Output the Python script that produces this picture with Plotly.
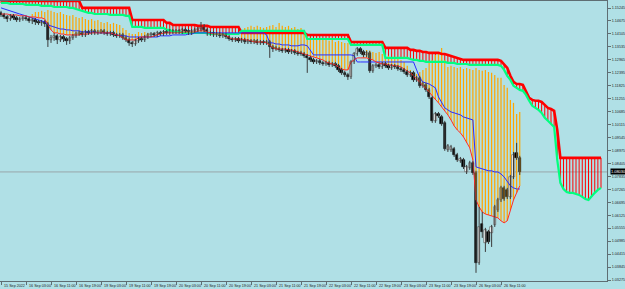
import plotly.graph_objects as go

# ---------------- data (EURUSD-style H1 chart, Ichimoku) ----------------
X_LABELS = ["15 Sep 2022", "16 Sep 03:00", "16 Sep 11:00", "16 Sep 19:00", "19 Sep 03:00",
            "19 Sep 11:00", "19 Sep 19:00", "20 Sep 03:00", "20 Sep 11:00", "20 Sep 19:00",
            "21 Sep 03:00", "21 Sep 11:00", "21 Sep 19:00", "22 Sep 03:00", "22 Sep 11:00",
            "22 Sep 19:00", "23 Sep 03:00", "23 Sep 11:00", "23 Sep 19:00", "26 Sep 03:00",
            "26 Sep 11:00"]
X_LABEL_BARS = [0, 8, 16, 24, 32, 40, 48, 56, 64, 72, 80, 88, 96, 104, 112, 120, 128, 136,
                144, 152, 160]
Y_TICKS = [1.15245, 1.14675, 1.14105, 1.13535, 1.12965, 1.12395, 1.11825, 1.11255, 1.10685,
           1.10115, 1.09545, 1.08975, 1.08405, 1.07835, 1.07265, 1.06695, 1.06125, 1.05555,
           1.04985, 1.04415, 1.03845, 1.03275]

OPEN = [1.1503, 1.1494, 1.1485, 1.1476, 1.1490, 1.1481, 1.1472, 1.1476,
        1.1481, 1.1476, 1.1468, 1.1472, 1.1463, 1.1459, 1.1463, 1.1454,
        1.1384, 1.1393, 1.1402, 1.1384, 1.1397, 1.1388, 1.1380, 1.1393,
        1.1402, 1.1410, 1.1415, 1.1406, 1.1419, 1.1415, 1.1424, 1.1415,
        1.1419, 1.1424, 1.1415, 1.1410, 1.1415, 1.1406, 1.1402, 1.1406,
        1.1393, 1.1384, 1.1371, 1.1366, 1.1380, 1.1388, 1.1384, 1.1397,
        1.1406, 1.1410, 1.1406, 1.1415, 1.1410, 1.1419, 1.1415, 1.1424,
        1.1419, 1.1424, 1.1419, 1.1428, 1.1424, 1.1415, 1.1424, 1.1428,
        1.1432, 1.1446, 1.1428, 1.1410, 1.1415, 1.1406, 1.1410, 1.1402,
        1.1406, 1.1397, 1.1388, 1.1384, 1.1388, 1.1380, 1.1384, 1.1375,
        1.1380, 1.1375, 1.1380, 1.1371, 1.1375, 1.1371, 1.1375, 1.1353,
        1.1349, 1.1344, 1.1340, 1.1336, 1.1340, 1.1331, 1.1336, 1.1327,
        1.1327, 1.1322, 1.1314, 1.1305, 1.1296, 1.1287, 1.1292, 1.1283,
        1.1278, 1.1283, 1.1274, 1.1278, 1.1270, 1.1252, 1.1239, 1.1230,
        1.1221, 1.1287, 1.1322, 1.1344, 1.1331, 1.1318, 1.1327, 1.1248,
        1.1270, 1.1274, 1.1265, 1.1278, 1.1270, 1.1261, 1.1270, 1.1265,
        1.1256, 1.1252, 1.1243, 1.1230, 1.1239, 1.1208, 1.1217, 1.1182,
        1.1186, 1.1164, 1.1129, 1.1028, 1.1058, 1.1045, 1.1019, 1.0900,
        1.0900, 1.0904, 1.0878, 1.0852, 1.0856, 1.0803, 1.0821, 1.0843,
        1.0799, 1.0403, 1.0574, 1.0491, 1.0539, 1.0535, 1.0570, 1.0636,
        1.0680, 1.0733, 1.0724, 1.0693, 1.0781, 1.0887, 1.0865]
HIGH = [1.1512, 1.1503, 1.1494, 1.1498, 1.1498, 1.1490, 1.1485, 1.1490,
        1.1490, 1.1485, 1.1481, 1.1481, 1.1472, 1.1472, 1.1472, 1.1463,
        1.1406, 1.1415, 1.1410, 1.1406, 1.1406, 1.1397, 1.1402, 1.1410,
        1.1419, 1.1424, 1.1424, 1.1428, 1.1428, 1.1432, 1.1432, 1.1428,
        1.1432, 1.1432, 1.1424, 1.1424, 1.1424, 1.1415, 1.1415, 1.1415,
        1.1402, 1.1393, 1.1380, 1.1388, 1.1397, 1.1397, 1.1406, 1.1415,
        1.1419, 1.1419, 1.1424, 1.1424, 1.1428, 1.1428, 1.1432, 1.1432,
        1.1432, 1.1432, 1.1437, 1.1437, 1.1432, 1.1432, 1.1437, 1.1441,
        1.1463, 1.1454, 1.1437, 1.1424, 1.1424, 1.1419, 1.1419, 1.1415,
        1.1415, 1.1406, 1.1397, 1.1397, 1.1397, 1.1393, 1.1393, 1.1388,
        1.1388, 1.1388, 1.1388, 1.1384, 1.1384, 1.1384, 1.1384, 1.1362,
        1.1358, 1.1353, 1.1349, 1.1349, 1.1349, 1.1344, 1.1344, 1.1336,
        1.1336, 1.1331, 1.1322, 1.1314, 1.1305, 1.1300, 1.1300, 1.1292,
        1.1292, 1.1292, 1.1287, 1.1287, 1.1278, 1.1261, 1.1248, 1.1239,
        1.1296, 1.1331, 1.1353, 1.1353, 1.1340, 1.1336, 1.1336, 1.1278,
        1.1283, 1.1283, 1.1287, 1.1287, 1.1278, 1.1278, 1.1278, 1.1274,
        1.1265, 1.1261, 1.1252, 1.1248, 1.1248, 1.1226, 1.1226, 1.1199,
        1.1195, 1.1173, 1.1138, 1.1067, 1.1067, 1.1054, 1.1028, 1.0926,
        1.0922, 1.0913, 1.0887, 1.0869, 1.0865, 1.0834, 1.0852, 1.0852,
        1.0808, 1.0649, 1.0627, 1.0557, 1.0548, 1.0570, 1.0658, 1.0689,
        1.0742, 1.0742, 1.0733, 1.0790, 1.0891, 1.0931, 1.0874]
LOW = [1.1485, 1.1476, 1.1463, 1.1468, 1.1472, 1.1463, 1.1463, 1.1468,
       1.1468, 1.1459, 1.1454, 1.1450, 1.1450, 1.1446, 1.1441, 1.1353,
       1.1371, 1.1380, 1.1366, 1.1375, 1.1375, 1.1362, 1.1366, 1.1384,
       1.1393, 1.1402, 1.1397, 1.1397, 1.1406, 1.1406, 1.1406, 1.1406,
       1.1410, 1.1406, 1.1402, 1.1402, 1.1397, 1.1393, 1.1393, 1.1384,
       1.1375, 1.1358, 1.1353, 1.1358, 1.1371, 1.1375, 1.1375, 1.1388,
       1.1397, 1.1397, 1.1397, 1.1402, 1.1402, 1.1406, 1.1406, 1.1410,
       1.1410, 1.1410, 1.1410, 1.1415, 1.1406, 1.1406, 1.1415, 1.1419,
       1.1424, 1.1419, 1.1402, 1.1402, 1.1397, 1.1397, 1.1393, 1.1393,
       1.1388, 1.1380, 1.1375, 1.1375, 1.1371, 1.1371, 1.1366, 1.1366,
       1.1366, 1.1366, 1.1362, 1.1362, 1.1362, 1.1362, 1.1305, 1.1331,
       1.1336, 1.1331, 1.1327, 1.1327, 1.1322, 1.1322, 1.1318, 1.1314,
       1.1314, 1.1305, 1.1239, 1.1287, 1.1278, 1.1278, 1.1274, 1.1270,
       1.1270, 1.1265, 1.1265, 1.1261, 1.1243, 1.1230, 1.1221, 1.1208,
       1.1212, 1.1278, 1.1314, 1.1322, 1.1309, 1.1309, 1.1239, 1.1239,
       1.1261, 1.1256, 1.1256, 1.1261, 1.1252, 1.1252, 1.1256, 1.1248,
       1.1243, 1.1234, 1.1221, 1.1221, 1.1199, 1.1199, 1.1173, 1.1173,
       1.1155, 1.1124, 1.1019, 1.1019, 1.1041, 1.1006, 1.0896, 1.0891,
       1.0891, 1.0869, 1.0847, 1.0843, 1.0816, 1.0794, 1.0812, 1.0790,
       1.0359, 1.0394, 1.0513, 1.0451, 1.0486, 1.0473, 1.0561, 1.0627,
       1.0671, 1.0676, 1.0684, 1.0684, 1.0772, 1.0856, 1.0790]
CLOSE = [1.1494, 1.1485, 1.1476, 1.1490, 1.1481, 1.1472, 1.1476, 1.1481,
         1.1476, 1.1468, 1.1472, 1.1463, 1.1459, 1.1463, 1.1454, 1.1384,
         1.1393, 1.1402, 1.1384, 1.1397, 1.1388, 1.1380, 1.1393, 1.1402,
         1.1410, 1.1415, 1.1406, 1.1419, 1.1415, 1.1424, 1.1415, 1.1419,
         1.1424, 1.1415, 1.1410, 1.1415, 1.1406, 1.1402, 1.1406, 1.1393,
         1.1384, 1.1371, 1.1366, 1.1380, 1.1388, 1.1384, 1.1397, 1.1406,
         1.1410, 1.1406, 1.1415, 1.1410, 1.1419, 1.1415, 1.1424, 1.1419,
         1.1424, 1.1419, 1.1428, 1.1424, 1.1415, 1.1424, 1.1428, 1.1432,
         1.1446, 1.1428, 1.1410, 1.1415, 1.1406, 1.1410, 1.1402, 1.1406,
         1.1397, 1.1388, 1.1384, 1.1388, 1.1380, 1.1384, 1.1375, 1.1380,
         1.1375, 1.1380, 1.1371, 1.1375, 1.1371, 1.1375, 1.1353, 1.1344,
         1.1344, 1.1340, 1.1336, 1.1340, 1.1331, 1.1336, 1.1327, 1.1322,
         1.1322, 1.1314, 1.1305, 1.1296, 1.1287, 1.1292, 1.1283, 1.1278,
         1.1283, 1.1274, 1.1278, 1.1270, 1.1252, 1.1239, 1.1230, 1.1221,
         1.1287, 1.1322, 1.1344, 1.1331, 1.1318, 1.1327, 1.1248, 1.1270,
         1.1274, 1.1265, 1.1278, 1.1270, 1.1261, 1.1270, 1.1265, 1.1256,
         1.1252, 1.1243, 1.1230, 1.1239, 1.1208, 1.1217, 1.1182, 1.1190,
         1.1164, 1.1133, 1.1028, 1.1058, 1.1050, 1.1014, 1.0904, 1.0918,
         1.0913, 1.0878, 1.0856, 1.0860, 1.0825, 1.0825, 1.0843, 1.0799,
         1.0403, 1.0561, 1.0539, 1.0548, 1.0495, 1.0561, 1.0649, 1.0680,
         1.0733, 1.0684, 1.0693, 1.0781, 1.0878, 1.0865, 1.0803]

TENKAN = [1.1498, 1.1498, 1.1498, 1.1494, 1.1494, 1.1494, 1.1490, 1.1490,
          1.1490, 1.1485, 1.1485, 1.1485, 1.1481, 1.1481, 1.1476, 1.1450,
          1.1428, 1.1415, 1.1415, 1.1410, 1.1410, 1.1406, 1.1406, 1.1406,
          1.1406, 1.1406, 1.1410, 1.1410, 1.1410, 1.1415, 1.1415, 1.1415,
          1.1415, 1.1415, 1.1415, 1.1415, 1.1410, 1.1406, 1.1402, 1.1393,
          1.1384, 1.1384, 1.1384, 1.1384, 1.1393, 1.1397, 1.1397, 1.1397,
          1.1397, 1.1402, 1.1406, 1.1410, 1.1415, 1.1415, 1.1415, 1.1415,
          1.1415, 1.1415, 1.1419, 1.1419, 1.1419, 1.1419, 1.1419, 1.1424,
          1.1424, 1.1424, 1.1419, 1.1415, 1.1410, 1.1410, 1.1410, 1.1410,
          1.1402, 1.1393, 1.1388, 1.1388, 1.1388, 1.1388, 1.1384, 1.1384,
          1.1380, 1.1375, 1.1375, 1.1375, 1.1375, 1.1371, 1.1358, 1.1349,
          1.1344, 1.1344, 1.1344, 1.1344, 1.1340, 1.1340, 1.1336, 1.1331,
          1.1327, 1.1322, 1.1318, 1.1314, 1.1309, 1.1305, 1.1300, 1.1296,
          1.1287, 1.1283, 1.1278, 1.1274, 1.1265, 1.1256, 1.1252, 1.1252,
          1.1287, 1.1296, 1.1305, 1.1305, 1.1305, 1.1305, 1.1300, 1.1296,
          1.1287, 1.1283, 1.1278, 1.1278, 1.1274, 1.1274, 1.1270, 1.1270,
          1.1265, 1.1256, 1.1248, 1.1239, 1.1226, 1.1212, 1.1199, 1.1186,
          1.1173, 1.1155, 1.1138, 1.1124, 1.1107, 1.1089, 1.1072, 1.1054,
          1.1032, 1.1006, 1.0988, 1.0975, 1.0957, 1.0931, 1.0909, 1.0856,
          1.0680, 1.0649, 1.0627, 1.0618, 1.0614, 1.0610, 1.0605, 1.0601,
          1.0588, 1.0579, 1.0588, 1.0636, 1.0680, 1.0711, 1.0742]
KIJUN = [1.1525, 1.1520, 1.1516, 1.1512, 1.1507, 1.1503, 1.1498, 1.1494,
         1.1490, 1.1485, 1.1481, 1.1476, 1.1472, 1.1468, 1.1463, 1.1450,
         1.1446, 1.1441, 1.1437, 1.1432, 1.1432, 1.1428, 1.1428, 1.1424,
         1.1424, 1.1424, 1.1419, 1.1419, 1.1419, 1.1419, 1.1419, 1.1415,
         1.1415, 1.1415, 1.1415, 1.1415, 1.1410, 1.1406, 1.1402, 1.1402,
         1.1402, 1.1397, 1.1397, 1.1397, 1.1397, 1.1397, 1.1397, 1.1397,
         1.1397, 1.1397, 1.1397, 1.1402, 1.1402, 1.1402, 1.1402, 1.1406,
         1.1406, 1.1406, 1.1406, 1.1406, 1.1410, 1.1410, 1.1415, 1.1415,
         1.1415, 1.1415, 1.1415, 1.1415, 1.1415, 1.1415, 1.1415, 1.1415,
         1.1415, 1.1415, 1.1415, 1.1415, 1.1415, 1.1415, 1.1415, 1.1415,
         1.1415, 1.1415, 1.1415, 1.1415, 1.1415, 1.1406, 1.1371, 1.1371,
         1.1366, 1.1366, 1.1362, 1.1362, 1.1362, 1.1358, 1.1358, 1.1358,
         1.1362, 1.1362, 1.1358, 1.1340, 1.1318, 1.1318, 1.1318, 1.1318,
         1.1318, 1.1318, 1.1318, 1.1318, 1.1318, 1.1318, 1.1318, 1.1318,
         1.1318, 1.1314, 1.1287, 1.1287, 1.1287, 1.1287, 1.1287, 1.1287,
         1.1287, 1.1287, 1.1287, 1.1287, 1.1287, 1.1287, 1.1287, 1.1287,
         1.1287, 1.1287, 1.1287, 1.1287, 1.1287, 1.1252, 1.1217, 1.1199,
         1.1195, 1.1190, 1.1182, 1.1173, 1.1133, 1.1107, 1.1085, 1.1076,
         1.1067, 1.1063, 1.1058, 1.1054, 1.1045, 1.1041, 1.1036, 1.1032,
         1.0825, 1.0821, 1.0816, 1.0812, 1.0808, 1.0808, 1.0803, 1.0803,
         1.0794, 1.0781, 1.0764, 1.0742, 1.0733, 1.0728, 1.0728]
# upper end of the orange histogram (lower end is the Tenkan line); None = no bar
ORANGE_TOP = [None, None, None, None, None, None, None, None, None, None,
              1.1498, 1.1507, 1.1507, 1.1512, 1.1507, 1.1516, 1.1512, 1.1507, 1.1503, 1.1507,
              1.1498, 1.1494, 1.1490, 1.1494, 1.1485, 1.1481, 1.1485, 1.1476, 1.1472, 1.1476,
              1.1468, 1.1472, 1.1463, 1.1459, 1.1463, 1.1454, 1.1459, 1.1454, 1.1450, 1.1437,
              1.1428, 1.1415, 1.1410, 1.1410, 1.1419, 1.1415, 1.1419, 1.1415,
              None, None, None, None, None, None, None, None, None, None,
              None, None, None, None, None, None, None, None, None, None,
              None, None, None, None, None, None, None, None, None,
              1.1428, 1.1437, 1.1441,
              1.1446, 1.1441, 1.1446, 1.1441, 1.1437, 1.1441, 1.1446, 1.1450,
              1.1441, 1.1459, 1.1446, 1.1441, 1.1446, 1.1437, 1.1441, 1.1432,
              1.1437, 1.1424, 1.1402, 1.1393, 1.1388, 1.1393, 1.1384, 1.1388,
              1.1384, 1.1380, 1.1384, 1.1375, 1.1380, 1.1375, 1.1371, 1.1371,
              None, None, None, None,
              1.1331, 1.1340, 1.1336, 1.1331,
              1.1327, 1.1331, 1.1322, 1.1318, 1.1314, 1.1309, 1.1305, 1.1305,
              1.1296, 1.1287, 1.1270, 1.1252, 1.1243, 1.1234, 1.1243, 1.1252,
              1.1261, 1.1283, 1.1296, 1.1318, 1.1331, 1.1349, 1.1296, 1.1265,
              1.1270, 1.1265, 1.1261, 1.1265, 1.1256, 1.1261, 1.1256, 1.1252,
              1.1261, 1.1252, 1.1248, 1.1252, 1.1243, 1.1239, 1.1230, 1.1217,
              1.1217, 1.1186, 1.1173, 1.1120, 1.1107, 1.1058, 1.1067]
# Senkou spans (cloud), already shifted 26 bars ahead
SPAN_RED = [1.1556, 1.1556, 1.1556, 1.1556, 1.1556, 1.1556, 1.1556, 1.1556, 1.1556, 1.1556,
            1.1556, 1.1556, 1.1556, 1.1556, 1.1556, 1.1556, 1.1556, 1.1556, 1.1556, 1.1556,
            1.1556, 1.1556, 1.1556, 1.1556, 1.1556, 1.1556,
            1.1525, 1.1525, 1.1525, 1.1525, 1.1525, 1.1525, 1.1525, 1.1525, 1.1525, 1.1525,
            1.1525, 1.1525, 1.1525, 1.1525, 1.1525, 1.1525,
            1.1472, 1.1472, 1.1472, 1.1472, 1.1472, 1.1472, 1.1472, 1.1472, 1.1472, 1.1472,
            1.1472, 1.1459, 1.1459,
            1.1450, 1.1450, 1.1450, 1.1450, 1.1450, 1.1450, 1.1450, 1.1450,
            1.1446, 1.1446, 1.1446, 1.1446,
            1.1441, 1.1441, 1.1441, 1.1441, 1.1441, 1.1441, 1.1441, 1.1441, 1.1441, 1.1441,
            1.1415, 1.1415, 1.1415, 1.1415, 1.1415, 1.1415, 1.1415, 1.1415, 1.1415, 1.1415,
            1.1415, 1.1415, 1.1415, 1.1415, 1.1415, 1.1415, 1.1415, 1.1415, 1.1415, 1.1415,
            1.1415,
            1.1406, 1.1406, 1.1406, 1.1406, 1.1406, 1.1406, 1.1406, 1.1406, 1.1406, 1.1406,
            1.1406, 1.1406, 1.1406, 1.1406,
            1.1375, 1.1375, 1.1375, 1.1375, 1.1375, 1.1375, 1.1375, 1.1375, 1.1375, 1.1375,
            1.1375,
            1.1349, 1.1349, 1.1349, 1.1349, 1.1349, 1.1349, 1.1349, 1.1349,
            1.1340, 1.1340, 1.1336, 1.1336, 1.1331, 1.1331, 1.1327, 1.1327, 1.1327, 1.1327,
            1.1322, 1.1322,
            1.1318, 1.1314, 1.1309, 1.1305, 1.1300, 1.1296, 1.1296, 1.1296, 1.1296, 1.1296,
            1.1296, 1.1296, 1.1296, 1.1296, 1.1296, 1.1296, 1.1296,
            1.1292, 1.1278, 1.1261, 1.1226, 1.1199, 1.1190, 1.1190, 1.1186, 1.1155, 1.1129,
            1.1120, 1.1116, 1.1116, 1.1111, 1.1098, 1.1085, 1.1080, 1.1072,
            1.0988,
            1.0865, 1.0865, 1.0865, 1.0865, 1.0865, 1.0865, 1.0865, 1.0865, 1.0865, 1.0865,
            1.0865, 1.0865, 1.0865, 1.0865]
SPAN_GREEN = [1.1547, 1.1547, 1.1547, 1.1542, 1.1542, 1.1542, 1.1542, 1.1542, 1.1538, 1.1538,
              1.1538, 1.1538, 1.1538, 1.1534, 1.1534, 1.1534, 1.1534, 1.1529, 1.1529, 1.1529,
              1.1529, 1.1529, 1.1525, 1.1525, 1.1520, 1.1516,
              1.1512, 1.1507, 1.1503, 1.1503, 1.1498, 1.1498, 1.1498, 1.1498, 1.1498, 1.1494,
              1.1494, 1.1494, 1.1494, 1.1494, 1.1490, 1.1490,
              1.1441, 1.1441, 1.1441, 1.1441, 1.1437, 1.1437, 1.1437, 1.1437, 1.1437, 1.1437,
              1.1437, 1.1428, 1.1428,
              1.1419, 1.1419, 1.1419, 1.1415, 1.1415, 1.1415, 1.1415, 1.1415,
              1.1415, 1.1415, 1.1415, 1.1415,
              1.1410, 1.1410, 1.1410, 1.1410, 1.1410, 1.1410, 1.1410, 1.1410, 1.1410, 1.1410,
              1.1424, 1.1424, 1.1424, 1.1424, 1.1424, 1.1424, 1.1424, 1.1424, 1.1424, 1.1424,
              1.1424, 1.1424, 1.1424, 1.1424, 1.1424, 1.1424, 1.1424, 1.1424, 1.1424, 1.1424,
              1.1424,
              1.1388, 1.1388, 1.1388, 1.1388, 1.1388, 1.1388, 1.1388, 1.1388, 1.1388, 1.1388,
              1.1388, 1.1388, 1.1388, 1.1388,
              1.1362, 1.1362, 1.1362, 1.1362, 1.1362, 1.1362, 1.1362, 1.1362, 1.1362, 1.1362,
              1.1362,
              1.1305, 1.1305, 1.1305, 1.1305, 1.1305, 1.1305, 1.1305, 1.1305,
              1.1300, 1.1296, 1.1296, 1.1292, 1.1292, 1.1287, 1.1287, 1.1287, 1.1287, 1.1287,
              1.1287, 1.1287,
              1.1283, 1.1283, 1.1283, 1.1278, 1.1278, 1.1278, 1.1278, 1.1274, 1.1274, 1.1274,
              1.1274, 1.1274, 1.1274, 1.1274, 1.1274, 1.1274, 1.1274,
              1.1270, 1.1252, 1.1226, 1.1208, 1.1182, 1.1173, 1.1164, 1.1160, 1.1142, 1.1116,
              1.1094, 1.1085, 1.1076, 1.1063, 1.1041, 1.1028, 1.1014, 1.1001,
              1.0856,
              1.0755, 1.0728, 1.0715, 1.0711, 1.0711, 1.0706, 1.0702, 1.0693, 1.0684, 1.0680,
              1.0698, 1.0711, 1.0724, 1.0733]

# ---------------- styling ----------------
BG = "#B0E0E6"
FRAME = "#5f6e73"
FONT = "Liberation Sans"

bars = list(range(len(CLOSE)))
cloud_bars = list(range(len(SPAN_RED)))

fig = go.Figure()

# cloud hatch
hx, hy = [], []
for i in cloud_bars:
    hx += [i, i, None]
    hy += [SPAN_RED[i], SPAN_GREEN[i], None]
fig.add_trace(go.Scatter(x=hx, y=hy, mode="lines", line=dict(color="#FF0000", width=1),
                         hoverinfo="skip"))

# orange histogram
ox, oy = [], []
for i in bars:
    if ORANGE_TOP[i] is not None:
        ox += [i, i, None]
        oy += [TENKAN[i], ORANGE_TOP[i], None]
fig.add_trace(go.Scatter(x=ox, y=oy, mode="lines", line=dict(color="#FFA500", width=1.2),
                         hoverinfo="skip"))

# cloud borders
fig.add_trace(go.Scatter(x=cloud_bars, y=SPAN_RED, mode="lines",
                         line=dict(color="#FF0000", width=2.6)))
fig.add_trace(go.Scatter(x=cloud_bars, y=SPAN_GREEN, mode="lines",
                         line=dict(color="#00FF7F", width=2.2)))

# Kijun / Tenkan
fig.add_trace(go.Scatter(x=bars, y=KIJUN, mode="lines", line=dict(color="#2B2BFF", width=1)))
fig.add_trace(go.Scatter(x=bars, y=TENKAN, mode="lines", line=dict(color="#FF2A2A", width=1)))

# candle wicks
wx, wy = [], []
for i in bars:
    wx += [i, i, None]
    wy += [LOW[i], HIGH[i], None]
fig.add_trace(go.Scatter(x=wx, y=wy, mode="lines", line=dict(color="#3a3a3a", width=1),
                         hoverinfo="skip"))

# candle bodies
up = [i for i in bars if CLOSE[i] > OPEN[i]]
dn = [i for i in bars if CLOSE[i] <= OPEN[i]]
fig.add_trace(go.Bar(x=up, base=[OPEN[i] for i in up],
                     y=[CLOSE[i] - OPEN[i] for i in up], width=0.78,
                     marker=dict(color="#FFFFFF", line=dict(color="#4a4a4a", width=0.6))))
fig.add_trace(go.Bar(x=dn, base=[CLOSE[i] for i in dn],
                     y=[OPEN[i] - CLOSE[i] for i in dn], width=0.78,
                     marker=dict(color="#000000", line=dict(color="#000000", width=0.6))))

last = CLOSE[-1]
fig.add_shape(type="line", xref="paper", x0=0, x1=1, y0=last, y1=last,
              line=dict(color="#98a6aa", width=1), layer="below")

annotations = []
for b, t in zip(X_LABEL_BARS, X_LABELS):
    annotations.append(dict(x=b + 0.35, y=0, xref="x", yref="paper", text=t,
                            showarrow=False, xanchor="left", yanchor="top", yshift=-1,
                            font=dict(size=3.7, color="#222222", family=FONT)))
annotations.append(dict(x=1, y=last, xref="paper", yref="y", text=f"{last:.5f}",
                        showarrow=False, xanchor="left", xshift=3, bgcolor="#000000",
                        borderpad=0, font=dict(size=3.9, color="#FFFFFF", family=FONT)))

fig.update_layout(
    width=625, height=289,
    margin=dict(l=0, r=18, t=1, b=8, pad=0),
    paper_bgcolor=BG, plot_bgcolor=BG,
    showlegend=False, barmode="overlay", bargap=0,
    annotations=annotations,
    xaxis=dict(range=[-0.32, 193.92], tickvals=X_LABEL_BARS, showticklabels=False,
               ticks="outside", ticklen=3, tickcolor=FRAME, showgrid=False, zeroline=False,
               showline=True, linecolor=FRAME, linewidth=1, mirror=True),
    yaxis=dict(range=[1.03231, 1.15553], side="right", tickvals=Y_TICKS,
               ticktext=[f"{v:.5f}" for v in Y_TICKS], ticks="outside", ticklen=3,
               tickcolor=FRAME, tickfont=dict(size=3.7, color="#222222", family=FONT),
               showgrid=False, zeroline=False, showline=True, linecolor=FRAME,
               linewidth=1, mirror=True),
)

fig.write_html("out.html")
